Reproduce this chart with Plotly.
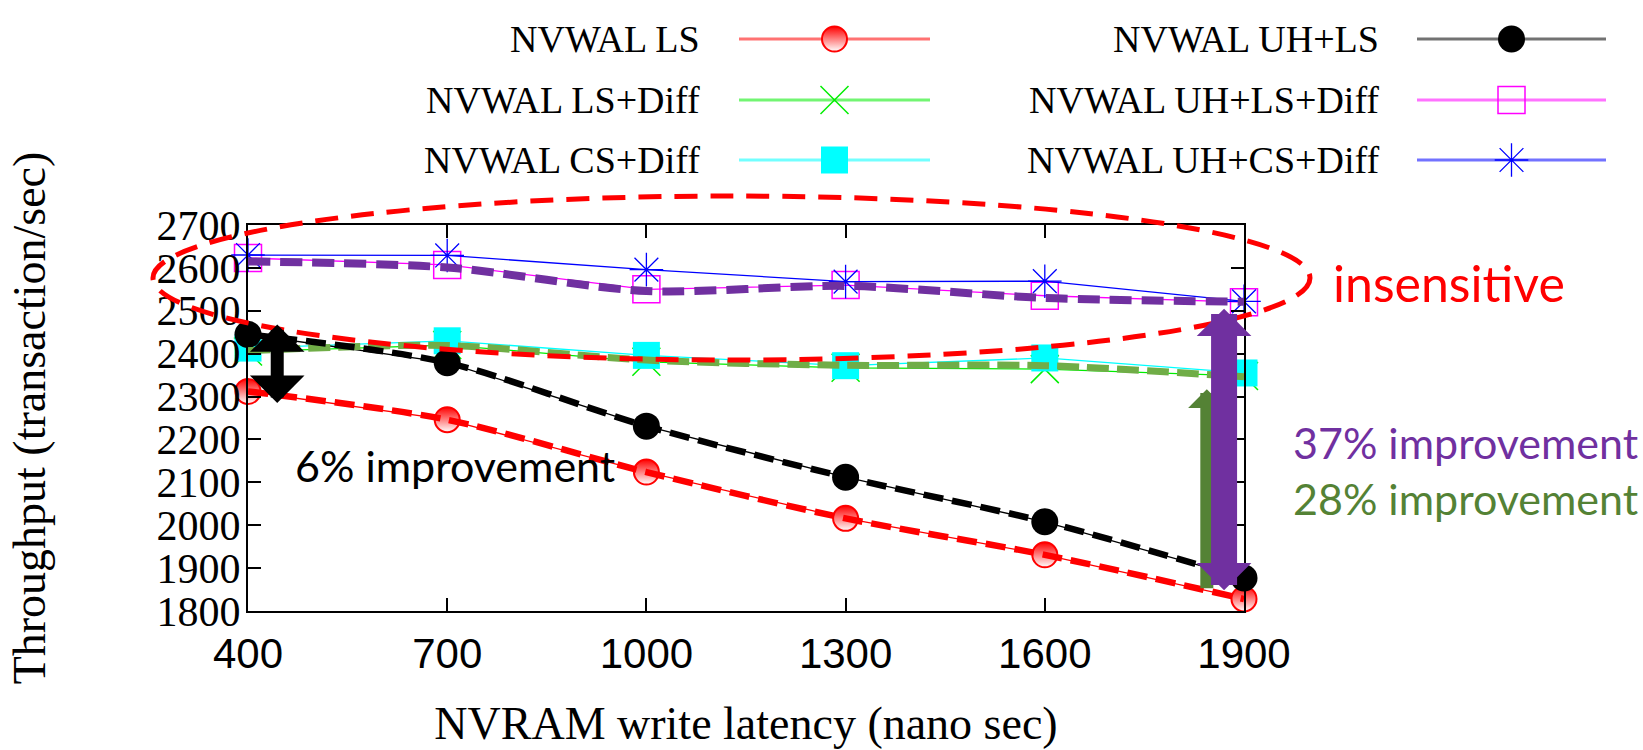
import plotly.graph_objects as go

W, H = 1643, 750

# ---------------- data ----------------
latency = [400, 700, 1000, 1300, 1600, 1900]
x_tick_values = [400, 700, 1000, 1300, 1600, 1900]
y_tick_values = [1800, 1900, 2000, 2100, 2200, 2300, 2400, 2500, 2600, 2700]

nvwal_ls = [2312, 2246, 2124, 2016, 1931, 1828]
nvwal_ls_diff = [2405, 2420, 2381, 2367, 2364, 2348]
nvwal_cs_diff = [2413, 2430, 2396, 2372, 2390, 2355]
nvwal_uh_ls = [2445, 2379, 2231, 2112, 2008, 1877]
nvwal_uh_ls_diff = [2623, 2607, 2550, 2560, 2535, 2520]
nvwal_uh_cs_diff = [2630, 2629, 2596, 2568, 2569, 2522]

# hand-drawn trend curves laid over the series
trend_purple = [2615, 2601, 2546, 2558, 2530, 2521]
trend_green = [2407, 2419, 2385, 2373, 2372, 2346]

# improvement arrows (x position, low end, high end)
arrow_6_x, arrow_6_low, arrow_6_high = 444, 2284, 2468
arrow_28_x, arrow_28_low, arrow_28_high = 1844, 1852, 2317
arrow_37_x, arrow_37_low, arrow_37_high = 1870, 1847, 2505

# ---------------- styles ----------------
SERIF = "Liberation Serif, Times New Roman, serif"
SANS_N = "Liberation Sans Narrow, Liberation Sans, Arial, sans-serif"
HAND = "Comic Sans MS, Lato, sans-serif"
PURPLE = "#7030a0"
GREEN = "#548235"

series = [
    dict(name="NVWAL LS", y=nvwal_ls, color="#ff0000",
         marker=dict(symbol="circle", size=25, color="#ff0000",
                     gradient=dict(type="vertical", color="white"),
                     line=dict(color="#ff0000", width=2))),
    dict(name="NVWAL LS+Diff", y=nvwal_ls_diff, color="#00ee00",
         marker=dict(symbol="x-thin", size=28, color="#00ee00",
                     line=dict(color="#00ee00", width=1.5))),
    dict(name="NVWAL CS+Diff", y=nvwal_cs_diff, color="#00ffff",
         marker=dict(symbol="square", size=27, color="#00ffff",
                     line=dict(width=0))),
    dict(name="NVWAL UH+LS", y=nvwal_uh_ls, color="#000000",
         marker=dict(symbol="circle", size=27, color="#000000",
                     line=dict(width=0))),
    dict(name="NVWAL UH+LS+Diff", y=nvwal_uh_ls_diff, color="#ff00ff",
         marker=dict(symbol="square-open", size=27, color="#ff00ff",
                     line=dict(color="#ff00ff", width=1.5))),
    dict(name="NVWAL UH+CS+Diff", y=nvwal_uh_cs_diff, color="#0000ff",
         marker=dict(symbol="asterisk", size=28, color="#0000ff",
                     line=dict(color="#0000ff", width=1.3))),
]

fig = go.Figure()

for s in series:
    fig.add_trace(go.Scatter(
        x=latency, y=s["y"], name=s["name"], mode="lines+markers",
        line=dict(color=s["color"], width=1.3), marker=s["marker"],
        cliponaxis=False, showlegend=False, xaxis="x", yaxis="y"))

trends = [
    (trend_purple, PURPLE, 8, "22px,10px"),
    (trend_green, "#70ad47", 7, "22px,8px"),
    (nvwal_uh_ls, "#000000", 6.5, "20px,9px"),
    (nvwal_ls, "#ff0000", 6.5, "20px,9px"),
]
for ty, col, wid, dash in trends:
    fig.add_trace(go.Scatter(
        x=latency, y=ty, mode="lines",
        line=dict(color=col, width=wid, dash=dash, shape="spline", smoothing=0.8),
        cliponaxis=False, showlegend=False, hoverinfo="skip", xaxis="x", yaxis="y"))

# ---------------- custom legend (text left of the key, as in the reference) ----------------
legend_rows = [39, 100, 160]          # pixel rows
legend_cols = [(702, 739, 930), (1381, 1417, 1606)]  # text right edge, key start, key end
annotations = []
for i, s in enumerate(series):
    col = legend_cols[i // 3]
    row = legend_rows[i % 3]
    x0, x1 = col[1], col[2]
    xm = (x0 + x1) / 2
    fig.add_trace(go.Scatter(
        x=[x0, x1], y=[row, row], mode="lines",
        line=dict(color=s["color"], width=3), opacity=0.55,
        showlegend=False, hoverinfo="skip", xaxis="x2", yaxis="y2"))
    fig.add_trace(go.Scatter(
        x=[xm], y=[row], mode="markers", marker=s["marker"],
        showlegend=False, hoverinfo="skip", xaxis="x2", yaxis="y2"))
    annotations.append(dict(
        text=s["name"], x=col[0] / W, y=1 - row / H, xref="paper", yref="paper",
        xanchor="right", yanchor="middle", showarrow=False,
        font=dict(family=SERIF, size=38, color="black")))

# ---------------- annotations: text ----------------
def ptext(txt, x, y, color, size=43):
    return dict(text=txt, x=x / W, y=1 - y / H, xref="paper", yref="paper",
                xanchor="left", yanchor="middle", showarrow=False,
                font=dict(family=HAND, size=size, color=color))

annotations += [
    ptext("insensitive", 1331, 283, "#ff0000", 50),
    ptext("6% improvement", 293, 466, "#000000"),
    ptext("37% improvement", 1291, 442, PURPLE),
    ptext("28% improvement", 1291, 498, GREEN),
]

# ---------------- annotations: arrows ----------------
def arrow(x, ylow, yhigh, color, width, size, double):
    d = dict(text="", x=x, y=yhigh, ax=x, ay=ylow, xref="x", yref="y",
             axref="x", ayref="y", showarrow=True, arrowhead=1, arrowsize=size,
             arrowwidth=width, arrowcolor=color, standoff=0, startstandoff=0,
             font=dict(size=1), borderpad=0)
    if double:
        d.update(arrowside="end+start", startarrowhead=1, startarrowsize=size)
    return d

annotations += [
    arrow(arrow_6_x, arrow_6_low, arrow_6_high, "#000000", 13, 0.7, True),
    arrow(arrow_28_x, arrow_28_low, arrow_28_high, GREEN, 13, 0.48, False),
    arrow(arrow_37_x, arrow_37_low, arrow_37_high, PURPLE, 26, 0.35, True),
]

# ---------------- layout ----------------
X0, X1, YT, YB = 248, 1244, 225, 611
axis_common = dict(showline=True, linecolor="black", linewidth=2, mirror="ticks",
                   ticks="inside", ticklen=13, tickwidth=2, tickcolor="black",
                   showgrid=False, zeroline=False, automargin=False)

fig.update_layout(
    template="none",
    width=W, height=H,
    margin=dict(l=0, r=0, t=0, b=0, autoexpand=False),
    paper_bgcolor="white", plot_bgcolor="rgba(0,0,0,0)",
    showlegend=False,
    xaxis=dict(domain=[X0 / W, X1 / W], range=[400, 1900], anchor="y",
               tickvals=x_tick_values, ticktext=[str(v) for v in x_tick_values],
               tickfont=dict(family=SANS_N, size=42, color="black"),
               ticklabelstandoff=5,
               title=dict(text="NVRAM write latency (nano sec)", standoff=30,
                          font=dict(family=SERIF, size=46, color="black")),
               **axis_common),
    yaxis=dict(domain=[1 - YB / H, 1 - YT / H], range=[1800, 2700], anchor="x",
               tickvals=y_tick_values,
               tickfont=dict(family=SERIF, size=42, color="black"),
               ticklabelstandoff=-3,
               title=dict(text="Throughput (transaction/sec)", standoff=96,
                          font=dict(family=SERIF, size=46, color="black")),
               **axis_common),
    xaxis2=dict(domain=[0, 1], range=[0, W], anchor="y2", visible=False,
                fixedrange=True, automargin=False),
    yaxis2=dict(domain=[0, 1], range=[H, 0], anchor="x2", visible=False,
                fixedrange=True, automargin=False),
    annotations=annotations,
    shapes=[dict(type="circle", xref="paper", yref="paper",
                 x0=153 / W, x1=1310 / W, y0=1 - 360 / H, y1=1 - 196 / H,
                 line=dict(color="#ff0000", width=5, dash="23px,13px"))],
)

fig.write_html("out.html", config={"displayModeBar": False},
               post_script="document.body.style.margin='0';document.body.style.overflow='hidden';")
